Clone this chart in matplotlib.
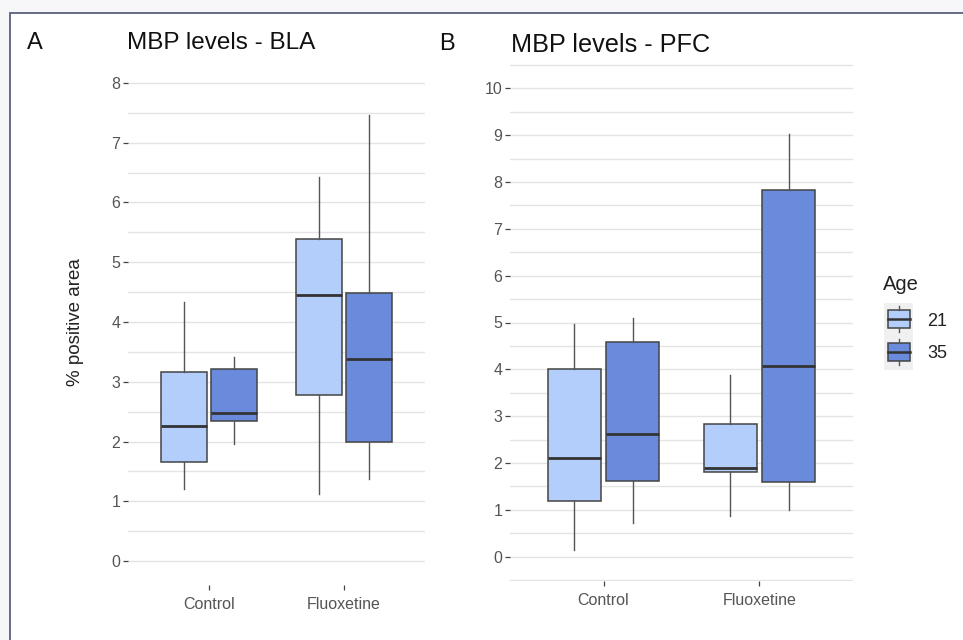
import matplotlib.pyplot as plt
from matplotlib.patches import Rectangle
from matplotlib.lines import Line2D
from matplotlib.ticker import MultipleLocator

plt.rcParams['font.family'] = ['Liberation Sans', 'DejaVu Sans']

grupos = ['Control', 'Fluoxetine']
idades = ['21', '35']
cores = {'21': '#b3cefb', '35': '#6a8bdb'}

# resumo das caixas: (whisker baixo, Q1, mediana, Q3, whisker alto) por grupo e idade
bla = {
    ('Control', '21'): (1.20, 1.66, 2.26, 3.16, 4.33),
    ('Control', '35'): (1.96, 2.34, 2.48, 3.21, 3.41),
    ('Fluoxetine', '21'): (1.12, 2.78, 4.45, 5.39, 6.43),
    ('Fluoxetine', '35'): (1.37, 2.00, 3.38, 4.49, 7.46),
}
pfc = {
    ('Control', '21'): (0.15, 1.19, 2.11, 4.00, 4.97),
    ('Control', '35'): (0.72, 1.62, 2.62, 4.58, 5.10),
    ('Fluoxetine', '21'): (0.87, 1.80, 1.90, 2.84, 3.88),
    ('Fluoxetine', '35'): (1.00, 1.60, 4.07, 7.83, 9.02),
}

W, H = 963, 640


def fx(x):
    return x / W


def fy(y):
    return 1 - y / H


def painel(ax, dados, ylim, ymax_tick):
    for gi, g in enumerate(grupos):
        for ai, idade in enumerate(idades):
            wl, q1, med, q3, wh = dados[(g, idade)]
            st = [dict(whislo=wl, q1=q1, med=med, q3=q3, whishi=wh, fliers=[])]
            pos = gi + 1 + (ai - 0.5) * 0.375
            ax.bxp(st, positions=[pos], widths=0.34, showcaps=False, patch_artist=True,
                   boxprops=dict(facecolor=cores[idade], edgecolor='#444444', linewidth=1.1),
                   medianprops=dict(color='#333333', linewidth=2.0),
                   whiskerprops=dict(color='#555555', linewidth=1.0),
                   manage_ticks=False, zorder=3)
    ax.set_xlim(0.4, 2.6)
    ax.set_ylim(*ylim)
    ax.set_xticks([1, 2])
    ax.set_xticklabels(grupos)
    ax.set_yticks(range(0, ymax_tick + 1))
    ax.yaxis.set_minor_locator(MultipleLocator(0.5))
    ax.grid(axis='y', which='both', color='#e4e4e4', linewidth=1.0, zorder=0)
    ax.set_axisbelow(True)
    ax.patch.set_alpha(0)
    for s in ax.spines.values():
        s.set_visible(False)
    ax.tick_params(axis='both', which='major', length=3.5, width=0.9, color='#444444',
                   labelcolor='#555555', labelsize=11.5)
    ax.tick_params(axis='y', which='minor', length=0)
    ax.tick_params(axis='x', pad=5)
    ax.tick_params(axis='y', pad=2)


fig = plt.figure(figsize=(W / 100, H / 100), dpi=100)
fig.patch.set_facecolor('#f7f7f9')
fig.patches.append(Rectangle((fx(10), fy(H + 10)), 1, fy(13) - fy(H + 10), transform=fig.transFigure,
                             facecolor='white', edgecolor='#5a6080', linewidth=1.3, zorder=-5))

ax1 = fig.add_axes([fx(128), fy(585), fx(425) - fx(128), fy(59) - fy(585)])
painel(ax1, bla, (-0.4, 8.4), 8)
ax1.set_ylabel('% positive area', fontsize=13.5, color='#222222', labelpad=20)

ax2 = fig.add_axes([fx(510), fy(581), fx(853) - fx(510), fy(64) - fy(581)])
painel(ax2, pfc, (-0.52, 10.52), 10)

fig.text(fx(27), fy(49), 'A', fontsize=17, color='#111111')
fig.text(fx(127), fy(49), 'MBP levels - BLA', fontsize=17.5, color='#111111')
fig.text(fx(439), fy(50), 'B', fontsize=17, color='#111111')
fig.text(fx(511), fy(52), 'MBP levels - PFC', fontsize=18.2, color='#111111')

# legenda
fig.text(fx(883), fy(285), 'Age', fontsize=14.5, color='#222222', va='center')
fig.patches.append(Rectangle((fx(884), fy(370)), fx(913) - fx(884), fy(303) - fy(370),
                             transform=fig.transFigure, facecolor='#f0f0f0', edgecolor='none'))
for i, idade in enumerate(idades):
    y0 = 310 + i * 33
    fig.patches.append(Rectangle((fx(888), fy(y0 + 18)), fx(910) - fx(888), fy(y0) - fy(y0 + 18),
                                 transform=fig.transFigure, facecolor=cores[idade],
                                 edgecolor='#444444', linewidth=1.1))
    fig.lines.append(Line2D([fx(888), fx(910)], [fy(y0 + 9), fy(y0 + 9)], transform=fig.transFigure,
                            color='#333333', linewidth=1.8))
    fig.lines.append(Line2D([fx(899), fx(899)], [fy(y0 - 4), fy(y0)], transform=fig.transFigure,
                            color='#555555', linewidth=1.0))
    fig.lines.append(Line2D([fx(899), fx(899)], [fy(y0 + 18), fy(y0 + 22)], transform=fig.transFigure,
                            color='#555555', linewidth=1.0))
    fig.text(fx(927), fy(y0 + 11), idade, fontsize=13, color='#222222', va='center')

fig.savefig('out.png', dpi=100, facecolor=fig.get_facecolor())
